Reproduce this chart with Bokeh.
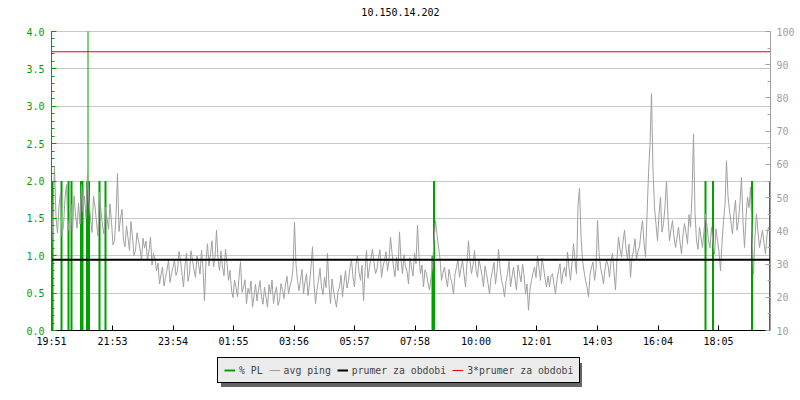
from bokeh.plotting import figure
from bokeh.models import (Range1d, LinearAxis, FixedTicker, SingleIntervalTicker,
                          PrintfTickFormatter, Legend, LegendItem, Label)
from bokeh.embed import file_html
from bokeh.resources import INLINE

chart_title = "10.150.14.202"
start_label = "19:51"
tick_labels = ["19:51", "21:53", "23:54", "01:55", "03:56", "05:57",
               "07:58", "10:00", "12:01", "14:03", "16:04", "18:05"]
span_minutes = 1438          # 24 h window shown
sample_minutes = 3           # one ping sample every 3 min
pl_max, ms_min, ms_max = 4.0, 10, 100

# average ping (ms)
ping_ms = [
    33.6, 46.0, 59.5, 44.2, 39.3, 47.5, 51.6, 38.6, 41.5, 49.8,
    53.9, 40.1, 43.8, 47.9, 39.3, 50.6, 44.9, 40.8, 48.3, 42.0,
    53.9, 45.7, 50.5, 44.0, 57.3, 48.6, 43.8, 39.5, 50.5, 47.2,
    42.6, 38.4, 51.6, 45.9, 41.5, 39.0, 47.1, 43.9, 40.4, 48.1,
    42.6, 35.7, 37.0, 44.6, 57.3, 39.8, 43.8, 46.5, 37.0, 35.2,
    41.5, 37.9, 34.1, 42.8, 38.1, 32.6, 34.1, 39.4, 37.0, 34.6,
    31.2, 37.8, 34.8, 36.9, 31.2, 34.0, 38.1, 29.7, 33.2, 31.5,
    28.0, 30.3, 24.0, 26.8, 29.1, 23.4, 26.0, 28.2, 31.2, 24.5,
    27.1, 29.0, 31.2, 26.6,
    28.0, 33.8, 31.2, 27.0, 23.1, 29.5, 33.2, 24.8, 27.1, 34.0,
    31.2, 28.3, 26.0, 32.4, 30.0, 26.9, 34.1, 28.8, 19.0, 30.9,
    36.1, 29.4, 33.2, 37.0, 29.1, 32.0, 40.2, 31.6, 28.0, 33.9,
    29.1, 26.5, 34.5, 30.2, 25.1, 28.1, 22.2, 19.9, 25.1, 23.0,
    20.1, 25.9, 30.7, 21.5, 23.1, 25.3, 18.1, 22.7, 21.0, 24.9,
    17.0, 20.4, 24.0, 18.9, 22.2, 25.0, 20.1, 17.9, 23.1, 20.0,
    17.0, 23.8, 21.0, 25.2, 18.1, 21.3, 23.1, 17.6, 19.0, 24.1,
    22.2, 19.6, 24.0, 26.3, 21.0, 23.4, 25.1, 28.6, 42.6, 29.8,
    25.1, 22.0,
    25.1, 28.4, 21.0, 24.6, 27.1, 20.5, 24.0, 29.0, 35.2, 24.2,
    18.1, 22.5, 25.1, 28.7, 23.1, 20.8, 26.0, 22.9, 33.2, 23.7,
    18.1, 25.5, 22.2, 19.3, 17.0, 21.8, 23.1, 26.7, 20.1, 24.4,
    28.0, 22.8, 25.1, 28.9, 31.2, 26.1, 23.1, 29.9, 32.5, 27.6,
    25.1, 29.6, 19.0, 27.8, 34.1, 25.7, 29.1, 31.8, 34.5, 30.4,
    27.1, 28.5, 32.1, 34.3, 26.0, 29.2, 31.2, 33.7, 28.0, 31.0,
    38.1, 33.4, 29.1, 26.2, 32.1, 28.0, 39.7, 31.4, 27.1, 32.8,
    29.1, 27.9, 24.0, 31.9, 29.1, 26.4, 33.2, 30.1, 41.7, 32.2,
    27.1, 29.7, 23.1, 28.3,
    27.1, 24.3, 22.2, 26.0, 29.1, 36.8, 43.1, 38.9, 35.2, 31.7,
    25.1, 27.5, 29.1, 25.6, 23.1, 28.4, 26.0, 24.1, 21.0, 26.9,
    29.1, 31.5, 26.0, 28.7, 31.2, 27.0, 23.1, 30.6, 37.0, 30.9,
    27.1, 29.8, 34.1, 28.2, 26.0, 31.3, 29.1, 26.6, 23.1, 29.4,
    27.1, 24.2, 21.0, 25.8, 28.0, 30.5, 24.0, 27.7, 34.5, 29.0,
    25.1, 23.3, 20.1, 24.7, 27.1, 30.8, 23.1, 26.2, 29.1, 25.4,
    22.2, 29.7, 27.1, 24.6, 30.0, 26.8, 21.0, 24.0, 16.1, 22.4,
    25.1, 27.3, 29.1, 25.9, 32.5, 28.9, 25.1, 31.8, 29.1, 25.7,
    23.1, 26.4,
    23.1, 26.5, 27.1, 23.9, 21.0, 25.4, 28.0, 30.1, 24.0, 27.3,
    29.1, 26.2, 33.6, 28.9, 25.1, 30.4, 36.1, 31.0, 27.1, 47.6,
    52.8, 38.4, 31.2, 27.9, 25.1, 23.2, 20.1, 26.9, 29.1, 30.6,
    25.1, 28.4, 43.1, 33.5, 29.1, 26.8, 24.0, 28.5, 31.2, 29.7,
    26.0, 30.8, 33.2, 27.4, 22.2, 31.6, 38.1, 34.5, 32.1, 36.7,
    40.2, 34.8, 31.2, 36.0, 26.0, 31.9, 34.1, 37.6, 31.2, 33.9,
    35.2, 39.8, 43.1, 36.4, 32.1, 44.5, 57.3, 66.0, 81.3, 58.2,
    47.1, 41.9, 37.0, 44.8, 50.1, 39.6, 42.2, 47.3,
    55.0, 44.1, 37.0, 40.3, 43.1, 38.2, 35.0, 37.9, 41.1, 36.6,
    33.0, 38.8, 42.2, 39.5, 36.1, 44.9, 41.1, 50.7, 69.2, 45.3,
    37.0, 34.4, 41.1, 38.1, 35.0, 39.9, 45.1, 41.6, 37.0, 34.9,
    41.1, 36.4, 33.0, 40.6, 37.0, 33.8, 28.0, 36.3, 43.1, 47.8,
    61.1, 50.4, 46.0, 42.5, 39.0, 45.5, 49.2, 40.2, 43.1, 48.6,
    56.1, 42.7, 35.0, 44.0, 50.1, 47.0, 53.2, 39.2, 27.1, 38.4,
    45.1, 39.7, 35.0, 37.6, 40.2, 36.2, 33.0, 38.7, 41.1,
]

# packet loss (%) events: minutes after start and value
pl_minutes = [2, 20, 34, 40, 59, 62, 71, 75, 96, 108, 762, 765,
              1308, 1323, 1401, 1437]
pl_values = [2.0, 2.0, 2.0, 2.0, 2.0, 2.0, 2.0, 2.0, 2.0, 2.0, 1.0, 2.0,
             2.0, 2.0, 2.0, 2.0]
pl_peak_minutes = [73]
pl_peak_values = [4.0]

prumer_ms = 31.3             # average for the period

FONT = "DejaVu Sans Mono"
GREEN = "#00a000"
GRAY = "#a0a0a0"

# layout (pixels)
PLOT_W, PLOT_H = 719, 299    # value area
PAD_LEFT = 51                # space left of it (PL tick labels)
PAD_TOP = 31                 # space above it (title)
PAD_BOTTOM = 60              # space below it (tick labels + legend)
FRAME_W = PAD_LEFT + PLOT_W
FRAME_H = PAD_TOP + PLOT_H + PAD_BOTTOM


def minutes_after_start(lbl):
    h, m = map(int, lbl.split(":"))
    sh, sm = map(int, start_label.split(":"))
    return (h * 60 + m - (sh * 60 + sm)) % 1440


tick_minutes = [minutes_after_start(l) for l in tick_labels]
ping_t = [i * sample_minutes for i in range(len(ping_ms))]

x_lo = -span_minutes * PAD_LEFT / PLOT_W
pl_lo = -pl_max * PAD_BOTTOM / PLOT_H
pl_hi = pl_max + pl_max * PAD_TOP / PLOT_H
ms_span = ms_max - ms_min
ms_lo = ms_min - ms_span * PAD_BOTTOM / PLOT_H
ms_hi = ms_max + ms_span * PAD_TOP / PLOT_H

p = figure(frame_width=FRAME_W, frame_height=FRAME_H,
           min_border_left=0, min_border_right=30,
           min_border_top=0, min_border_bottom=10,
           x_range=Range1d(x_lo, span_minutes), y_range=Range1d(pl_lo, pl_hi),
           output_backend="svg", toolbar_location=None,
           background_fill_color="white", border_fill_color="white")
p.outline_line_color = None
p.extra_y_ranges = {"ms": Range1d(ms_lo, ms_hi)}

# bottom axis, drawn at PL = 0
xa = p.xaxis[0]
xa.fixed_location = 0
xa.bounds = (0, span_minutes)
xa.ticker = FixedTicker(ticks=tick_minutes, minor_ticks=[])
xa.major_label_overrides = {t: l for t, l in zip(tick_minutes, tick_labels)}
xa.major_tick_in = 5
xa.major_tick_out = 0
xa.axis_line_color = "black"
xa.major_tick_line_color = "black"
xa.major_label_text_font = FONT
xa.major_label_text_font_size = "10px"
xa.major_label_text_color = "black"
xa.major_label_standoff = 5

# left axis (% PL), drawn at the start of the time span
ya = p.yaxis[0]
ya.fixed_location = 0
ya.bounds = (0, pl_max)
ya.ticker = SingleIntervalTicker(interval=0.5, num_minor_ticks=5)
ya.formatter = PrintfTickFormatter(format="%.1f")
ya.axis_line_color = GREEN
ya.major_tick_line_color = GREEN
ya.minor_tick_line_color = GREEN
ya.major_tick_in = 5
ya.major_tick_out = 0
ya.minor_tick_in = 3
ya.minor_tick_out = 0
ya.major_label_text_font = FONT
ya.major_label_text_font_size = "10px"
ya.major_label_text_color = GREEN
ya.major_label_standoff = 7

# right axis (ms)
ra = LinearAxis(y_range_name="ms", bounds=(ms_min, ms_max),
                ticker=SingleIntervalTicker(interval=10, num_minor_ticks=2))
ra.axis_line_color = GRAY
ra.major_tick_line_color = GRAY
ra.minor_tick_line_color = GRAY
ra.major_tick_in = 5
ra.major_tick_out = 0
ra.minor_tick_in = 3
ra.minor_tick_out = 0
ra.major_label_text_font = FONT
ra.major_label_text_font_size = "10px"
ra.major_label_text_color = GRAY
ra.major_label_standoff = 6
p.add_layout(ra, "right")

p.xgrid.visible = False
p.ygrid.ticker = SingleIntervalTicker(interval=0.5)
p.ygrid.bounds = (0.5, pl_max)
p.ygrid.cross_bounds = (0, span_minutes)
p.ygrid.grid_line_color = "#c8c8c8"

# data
r_pl = p.segment(x0=pl_minutes, y0=[0] * len(pl_minutes), x1=pl_minutes,
                 y1=pl_values, line_color=GREEN, line_width=2)
p.segment(x0=pl_peak_minutes, y0=[0] * len(pl_peak_minutes),
          x1=pl_peak_minutes, y1=pl_peak_values, line_color=GREEN, line_width=1)
r_ping = p.line(ping_t, ping_ms, y_range_name="ms", line_color=GRAY, line_width=1)
r_avg = p.line([0, span_minutes], [prumer_ms, prumer_ms], y_range_name="ms",
               line_color="black", line_width=2)
r_avg3 = p.line([0, span_minutes], [3 * prumer_ms, 3 * prumer_ms], y_range_name="ms",
                line_color="#e60000", line_width=1)

# title
p.add_layout(Label(x=400, y=FRAME_H - 11.5, x_units="screen", y_units="screen",
                   text=chart_title, text_align="center", text_baseline="middle",
                   text_font=FONT, text_font_size="10px", text_color="black"))

labels = ["% PL", "avg ping", "prumer za obdobi", "3*prumer za obdobi"]
renderers = [r_pl, r_ping, r_avg, r_avg3]

# shadow legend: same size, blank labels, invisible glyphs
dummies = [p.line([], [], line_alpha=0) for _ in labels]
shadow = Legend(items=[LegendItem(label="\u00a0" * len(l), renderers=[d])
                       for l, d in zip(labels, dummies)],
                location=(221, 3), orientation="horizontal",
                background_fill_color="#646464", background_fill_alpha=1,
                border_line_alpha=0)
legend = Legend(items=[LegendItem(label=l, renderers=[r]) for l, r in zip(labels, renderers)],
                location=(217, 7), orientation="horizontal",
                background_fill_color="#ebebeb", background_fill_alpha=1,
                border_line_color="black", border_line_width=1, border_line_alpha=1)
for lg in (shadow, legend):
    lg.label_text_font = FONT
    lg.label_text_font_size = "9.8px"
    lg.label_height = 12
    lg.glyph_height = 12
    lg.glyph_width = 11
    lg.label_standoff = 4
    lg.spacing = 6
    lg.padding = 6
    lg.margin = 0
    p.add_layout(lg, "center")

open("out.html", "w").write(file_html(p, INLINE))
